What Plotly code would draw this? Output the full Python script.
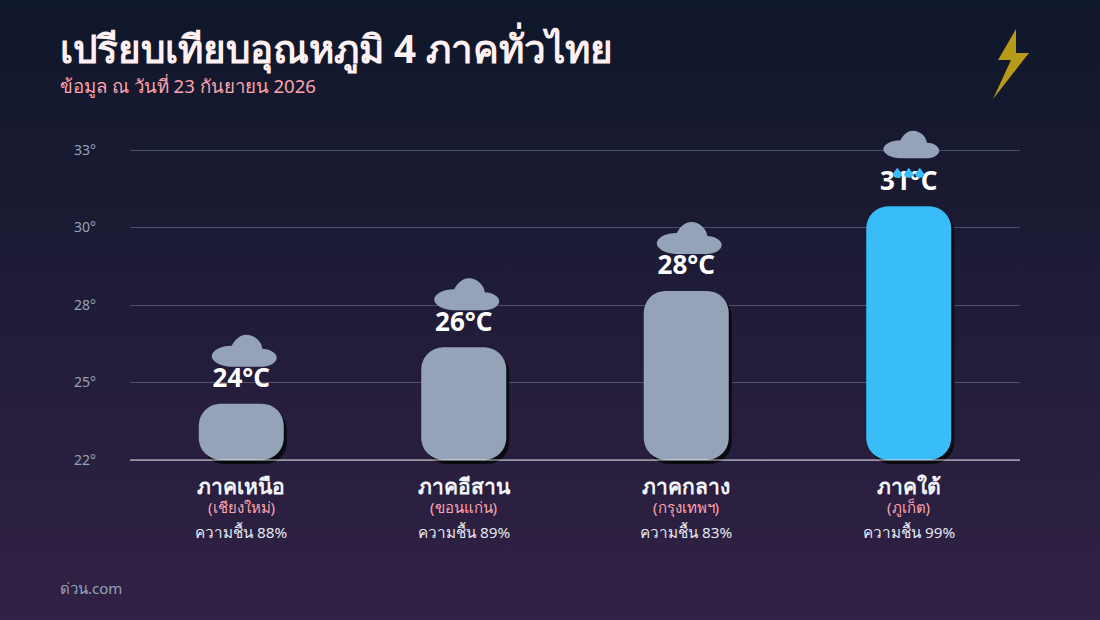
import plotly.graph_objects as go

# ข้อมูล
regions = ["ภาคเหนือ", "ภาคอีสาน", "ภาคกลาง", "ภาคใต้"]
provinces = ["เชียงใหม่", "ขอนแก่น", "กรุงเทพฯ", "ภูเก็ต"]
temps = [24, 26, 28, 31]
humidity = [88, 89, 83, 99]
weather = ["cloud", "cloud", "cloud", "rain"]
bar_colors = ["#94a3b8", "#94a3b8", "#94a3b8", "#38bdf8"]
y_ticks = [22, 24.75, 27.5, 30.25, 33]
y_labels = ["22°", "25°", "28°", "30°", "33°"]

FONT = "Noto Sans, sans-serif"
W, H = 1100, 620
PLOT_L, PLOT_R, PLOT_T, PLOT_B = 130, 1020, 150, 460
# El eje se alarga arriba y abajo para que no se recorten la nube ni la sombra
AXIS_TOP, AXIS_BOTTOM = 120, 466
BASE = 22
PX_PER_X = (PLOT_R - PLOT_L) / 4
PX_PER_Y = (PLOT_B - PLOT_T) / 11
BAR_W = 85 / PX_PER_X
Y_MAX = BASE + (PLOT_B - AXIS_TOP) / PX_PER_Y
Y_MIN = BASE - (AXIS_BOTTOM - PLOT_B) / PX_PER_Y


def cloud_path(scale, lift):
    # Medidas en pixeles respecto a la parte alta de la barra
    def p(dx, up):
        return f"{dx * scale:.1f} {(up - 37) * scale + lift:.1f}"
    return (
        f"M {p(-9.5, 37)} "
        f"C {p(-20.5, 37)} {p(-29.5, 42.3)} {p(-29.5, 47.5)} "
        f"C {p(-29.5, 53.3)} {p(-20.5, 58)} {p(-9.5, 58)} "
        f"C {p(-7, 63)} {p(-2, 69)} {p(5, 69)} "
        f"C {p(13.8, 69)} {p(21, 61)} {p(21, 55)} "
        f"C {p(28, 55)} {p(35.5, 51)} {p(35.5, 46)} "
        f"C {p(35.5, 41)} {p(28, 37)} {p(20.5, 37)} Z"
    )


def drop_path(dx):
    return (
        f"M {dx} 38.5 L {dx + 4.5} 32.5 "
        f"C {dx + 5} 30 {dx + 2.5} 28.5 {dx} 28.5 "
        f"C {dx - 2.5} 28.5 {dx - 5} 30 {dx - 4.5} 32.5 Z"
    )


xs = list(range(len(temps)))
heights = [t - BASE for t in temps]

fig = go.Figure()

# Fondo con degradado
fig.add_trace(go.Scatter(
    x=[0, 1, 1, 0], y=[0, 0, 1, 1], xaxis="x", yaxis="y",
    mode="lines", line_width=0, fill="toself", hoverinfo="skip",
    fillgradient=dict(type="vertical", colorscale=[[0, "#312145"], [1, "#0f172a"]]),
))

# Sombra
fig.add_trace(go.Bar(
    x=xs, y=heights, base=[BASE - 4 / PX_PER_Y] * len(temps),
    width=BAR_W, offset=-BAR_W / 2 + 3 / PX_PER_X, xaxis="x2", yaxis="y2",
    marker=dict(color="#0a0a12", cornerradius=22, line_width=0),
    cliponaxis=False, hoverinfo="skip",
))

# Barras
fig.add_trace(go.Bar(
    x=xs, y=heights, base=[BASE] * len(temps),
    width=BAR_W, offset=-BAR_W / 2, xaxis="x2", yaxis="y2",
    marker=dict(color=bar_colors, cornerradius=22, line_width=0),
    cliponaxis=False, hoverinfo="skip",
))

# Etiquetas de temperatura
fig.add_trace(go.Scatter(
    x=xs, y=[t + 23 / PX_PER_Y for t in temps], xaxis="x2", yaxis="y2",
    mode="text", text=[f"<b>{t}°C</b>" for t in temps], textposition="middle center",
    textfont=dict(family=FONT, size=26, color="#ffffff"),
    cliponaxis=False, hoverinfo="skip",
))

# Linea base, por encima de las barras
shapes = [dict(
    type="line", xref="x2 domain", yref="y2", x0=0, x1=1, y0=BASE, y1=BASE,
    layer="above", line=dict(color="rgba(255,255,255,0.4)", width=2),
)]

for i, t in enumerate(temps):
    rain = weather[i] == "rain"
    shapes.append(dict(
        type="path", xref="x2", yref="y2", xsizemode="pixel", ysizemode="pixel",
        xanchor=i, yanchor=t, layer="above", fillcolor="#94a3b8", line_width=0,
        path=cloud_path(0.86, 48) if rain else cloud_path(1, 37),
    ))
    if rain:
        for dx in (-11.5, 0, 11):
            shapes.append(dict(
                type="path", xref="x2", yref="y2", xsizemode="pixel", ysizemode="pixel",
                xanchor=i, yanchor=t, layer="above", fillcolor="#38bdf8", line_width=0,
                path=drop_path(dx),
            ))

# Rayo
shapes.append(dict(
    type="path", xref="paper", yref="paper", xsizemode="pixel", ysizemode="pixel",
    xanchor=0, yanchor=1, layer="above", fillcolor="#b89a1a", line_width=0,
    path="M 1016 -29 L 998 -60 L 1011 -60 L 993 -99 L 1029 -53 L 1016 -53 Z",
))

annotations = [
    dict(x=58 / W, y=1 - 48 / H, text="<b>เปรียบเทียบอุณหภูมิ 4 ภาคทั่วไทย</b>",
         font=dict(size=38.6, color="#fff1f2")),
    dict(x=58 / W, y=1 - 85 / H, text="ข้อมูล ณ วันที่ 23 กันยายน 2026",
         font=dict(size=18.6, color="#fda4af")),
    dict(x=58 / W, y=1 - 588 / H, text="ด่วน.com", font=dict(size=15, color="#94a3b8")),
]
for a in annotations:
    a.update(xref="paper", yref="paper", xanchor="left", yanchor="middle", showarrow=False)

for i, (prov, hum) in enumerate(zip(provinces, humidity)):
    annotations.append(dict(
        x=i, xref="x2", y=1 - 507 / H, yref="paper", text=f"({prov})", showarrow=False,
        xanchor="center", yanchor="middle", font=dict(size=15, color="#fda4af"),
    ))
    annotations.append(dict(
        x=i, xref="x2", y=1 - 532 / H, yref="paper", text=f"ความชื้น {hum}%", showarrow=False,
        xanchor="center", yanchor="middle", font=dict(size=15.3, color="#e2e8f0"),
    ))

fig.update_layout(
    width=W, height=H, margin=dict(l=0, r=0, t=0, b=0, pad=0, autoexpand=False),
    paper_bgcolor="#1f1b38", plot_bgcolor="rgba(0,0,0,0)",
    font=dict(family=FONT), showlegend=False, barmode="overlay", hovermode=False,
    shapes=shapes, annotations=annotations,
    xaxis=dict(domain=[0, 1], range=[0, 1], visible=False),
    yaxis=dict(domain=[0, 1], range=[0, 1], visible=False),
    xaxis2=dict(
        domain=[PLOT_L / W, PLOT_R / W], range=[-0.5, 3.5], anchor="y2",
        tickvals=xs, ticktext=[f"<b>{r}</b>" for r in regions],
        tickfont=dict(size=21, color="#f1f5f9"), ticklen=0, showgrid=False, zeroline=False,
        showline=False, ticklabelstandoff=6,
    ),
    yaxis2=dict(
        domain=[1 - AXIS_BOTTOM / H, 1 - AXIS_TOP / H], range=[Y_MIN, Y_MAX], anchor="x2",
        tickvals=y_ticks, ticktext=y_labels,
        tickfont=dict(size=14, color="#94a3b8"), ticklen=0, showgrid=True,
        gridcolor="rgba(148,163,184,0.4)", gridwidth=1, zeroline=False, showline=False,
        ticklabelstandoff=33,
    ),
)

fig.write_html(
    "out.html",
    config={"displayModeBar": False},
    post_script="document.body.style.margin='0';document.body.style.overflow='hidden';",
)
